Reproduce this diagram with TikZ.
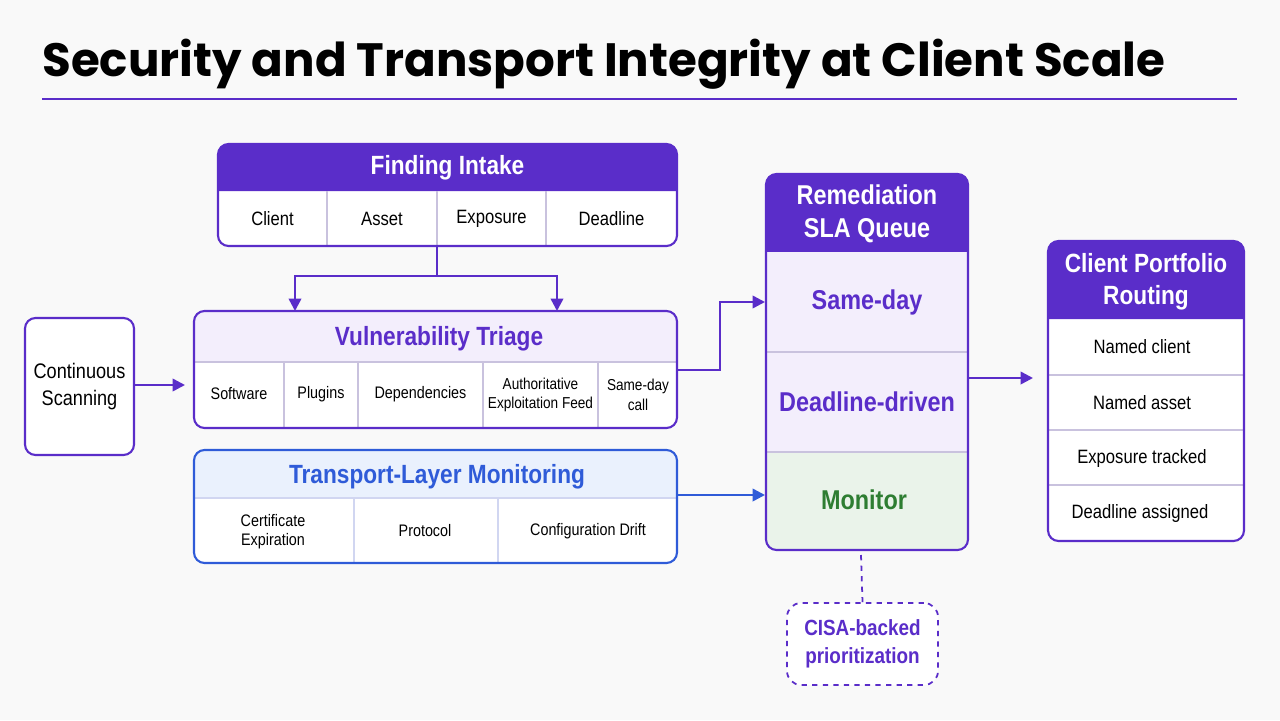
\documentclass[tikz,border=0pt]{standalone}
\usepackage{fontspec}
\setmainfont{Liberation Sans}[FakeStretch=0.86]
\newfontfamily\ttl{Poppins}
\usetikzlibrary{arrows.meta}
\definecolor{pur}{HTML}{5A2DC9}
\definecolor{lav}{HTML}{F3EEFC}
\definecolor{blu}{HTML}{2F5BD8}
\definecolor{lblu}{HTML}{EAF1FD}
\definecolor{grn}{HTML}{2E7D32}
\definecolor{lgrn}{HTML}{EAF3EA}
\definecolor{bg}{HTML}{F9F9F9}
\definecolor{grid}{HTML}{C9C2DE}
\tikzset{
 lbl/.style={font=\fontsize{11}{12}\selectfont, text=black, align=center},
 sml/.style={font=\fontsize{9.5}{11}\selectfont, text=black, align=center},
 hdw/.style={font=\bfseries\fontsize{15}{17}\selectfont, text=white, align=center},
 arr/.style={-{Triangle[length=7pt,width=7pt]}, line width=1.4pt, draw=pur},
}
\begin{document}
\begin{tikzpicture}[x=0.02cm,y=-0.02cm]
\useasboundingbox[fill=bg] (0,0) rectangle (1280,720);
\node[anchor=base west, inner sep=0, font=\ttl\bfseries\fontsize{26.6}{31}\selectfont] (title) at (42,76) {Security and Transport Integrity at Client Scale};
\draw[pur, line width=1.2pt] (42,99) -- (1237,99);

% Finding Intake
\fill[white, rounded corners=6] (218,144) rectangle (677,246);
\fill[pur] (218,191) [rounded corners=6]-- (218,144) -- (677,144) [sharp corners]-- (677,191) -- cycle;
\foreach \x in {327,437,546} \draw[grid, line width=0.6pt] (\x,191) -- (\x,246);
\draw[pur, line width=1.2pt, rounded corners=6] (218,144) rectangle (677,246);
\node[hdw] (fi) at (447.5,168) {Finding Intake};
\node[lbl] (c1) at (272.5,219) {Client};
\node[lbl] (c2) at (382,219) {Asset};
\node[lbl] (c3) at (491.5,219) {Exposure};
\node[lbl] (c4) at (611.5,219) {Deadline};
\coordinate (fib) at (437,246);

% Vulnerability Triage
\fill[white, rounded corners=6] (194,311) rectangle (677,428);
\fill[lav] (194,362) [rounded corners=6]-- (194,311) -- (677,311) [sharp corners]-- (677,362) -- cycle;
\draw[grid, line width=0.6pt] (194,362) -- (677,362);
\foreach \x in {284,358,483,598} \draw[grid, line width=0.6pt] (\x,362) -- (\x,428);
\draw[pur, line width=1.2pt, rounded corners=6] (194,311) rectangle (677,428);
\node[font=\bfseries\fontsize{15}{17}\selectfont, text=pur] (vt) at (439,339) {Vulnerability Triage};
\node[sml] (v1) at (239,394) {Software};
\node[sml] (v2) at (321,394) {Plugins};
\node[sml] (v3) at (420.5,394) {Dependencies};
\node[sml, font=\fontsize{9}{11}\selectfont] (v4) at (540.5,395) {Authoritative\\Exploitation Feed};
\node[sml, font=\fontsize{9}{11}\selectfont] (v5) at (638,395) {Same-day\\call};
\coordinate (vtl) at (295,311);
\coordinate (vtr) at (557,311);

\draw[pur, line width=1.4pt] (fib) -- (437,276);
\draw[arr] (437,276) -| (vtl);
\draw[arr] (437,276) -| (vtr);

% Continuous Scanning
\node[draw=pur, line width=1.2pt, fill=white, rounded corners=6, minimum width=109*0.02cm, minimum height=137*0.02cm, inner sep=1pt, font=\fontsize{12}{15}\selectfont, align=center] (cs) at (79.5,386.5) {Continuous\\Scanning};
\draw[arr] (cs.east |- 0,385) -- (185,385);

% Transport
\fill[white, rounded corners=6] (194,450) rectangle (677,563);
\fill[lblu] (194,498) [rounded corners=6]-- (194,450) -- (677,450) [sharp corners]-- (677,498) -- cycle;
\draw[grid!60!blu!40, line width=0.6pt] (194,498) -- (677,498);
\foreach \x in {354,498} \draw[grid!60!blu!40, line width=0.6pt] (\x,498) -- (\x,563);
\draw[blu, line width=1.2pt, rounded corners=6] (194,450) rectangle (677,563);
\node[font=\bfseries\fontsize{15}{17}\selectfont, text=blu] (tl) at (437,477) {Transport-Layer Monitoring};
\node[sml] (t1) at (273,532) {Certificate\\Expiration};
\node[sml] (t2) at (425,531) {Protocol};
\node[sml] (t3) at (588,531) {Configuration Drift};

% Remediation
\fill[white, rounded corners=6] (766,174) rectangle (968,550);
\fill[pur] (766,252) [rounded corners=6]-- (766,174) -- (968,174) [sharp corners]-- (968,252) -- cycle;
\fill[lav] (766,252) rectangle (968,452);
\fill[lgrn, rounded corners=6] (766,452) rectangle (968,550);
\fill[lgrn] (766,452) rectangle (968,500);
\draw[grid, line width=0.6pt] (766,352) -- (968,352);
\draw[grid, line width=0.6pt] (766,452) -- (968,452);
\draw[pur, line width=1.2pt, rounded corners=6] (766,174) rectangle (968,550);
\node[hdw, font=\bfseries\fontsize{15.5}{18.5}\selectfont] (rq) at (867,214) {Remediation\\SLA Queue};
\node[font=\bfseries\fontsize{15.5}{18}\selectfont, text=pur] (sd) at (867,302) {Same-day};
\node[font=\bfseries\fontsize{15.5}{18}\selectfont, text=pur] (dd) at (867,402) {Deadline-driven};
\node[font=\bfseries\fontsize{15.5}{18}\selectfont, text=grn] (mo) at (864,500) {Monitor};
\coordinate (rql) at (765,302);
\coordinate (rqm) at (765,495);

\draw[arr] (677,370) -- (720,370) |- (rql);
\draw[arr, draw=blu] (677,495) -- (rqm);

% CISA
\node[draw=pur, dashed, line width=1pt, fill=white, rounded corners=8, minimum width=151*0.02cm, minimum height=82*0.02cm, inner sep=1pt, font=\bfseries\fontsize{12.5}{16}\selectfont, text=pur, align=center] (ci) at (862.5,644) {CISA-backed\\prioritization};
\draw[pur, dashed, line width=1pt] (861,555) -- (ci.north);

% Client Portfolio Routing
\fill[white, rounded corners=6] (1048,241) rectangle (1244,541);
\fill[pur] (1048,319) [rounded corners=6]-- (1048,241) -- (1244,241) [sharp corners]-- (1244,319) -- cycle;
\foreach \y in {375,430,485} \draw[grid, line width=0.6pt] (1048,\y) -- (1244,\y);
\draw[pur, line width=1.2pt, rounded corners=6] (1048,241) rectangle (1244,541);
\node[hdw, font=\bfseries\fontsize{15}{18}\selectfont] (cp) at (1146,282) {Client Portfolio\\Routing};
\node[lbl] (p1) at (1142,347) {Named client};
\node[lbl] (p2) at (1142,403) {Named asset};
\node[lbl] (p3) at (1142,458) {Exposure tracked};
\node[lbl] (p4) at (1140,513) {Deadline assigned};
\draw[arr] (968,378) -- (1033,378);
\end{tikzpicture}
\end{document}
